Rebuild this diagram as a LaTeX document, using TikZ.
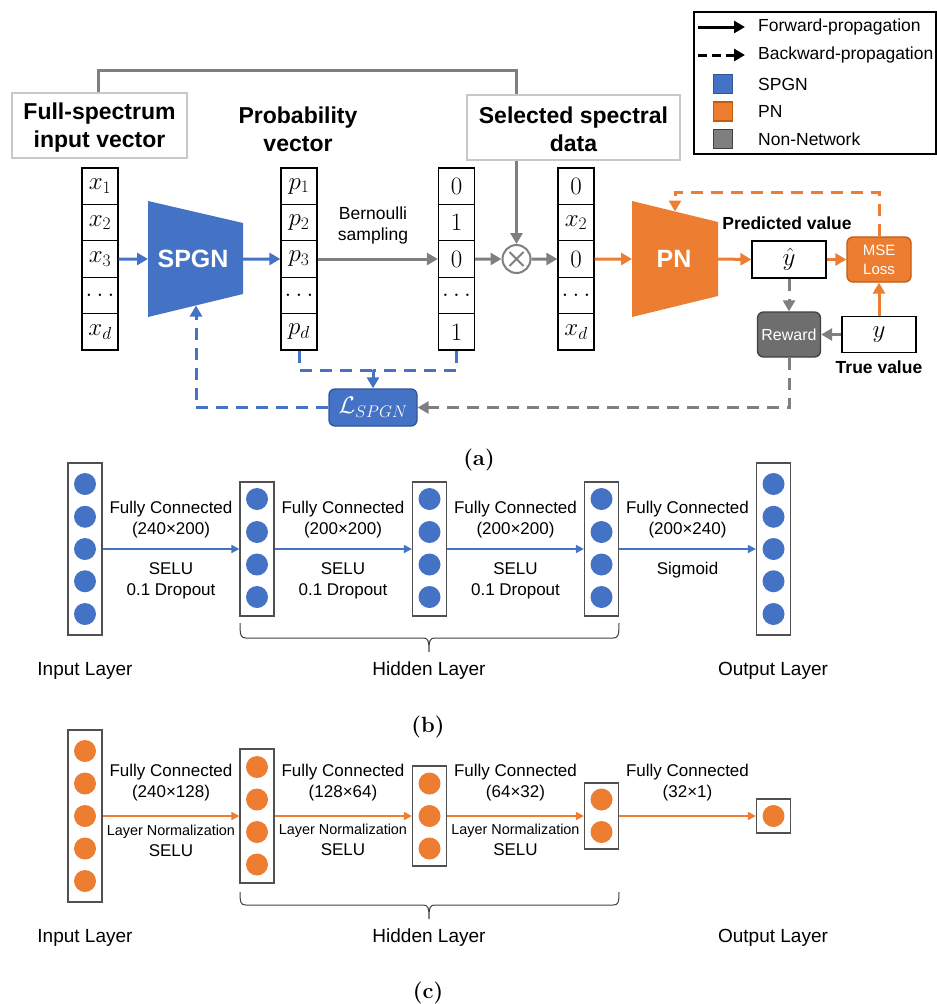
\RequirePackage{fix-cm}
\documentclass[tikz,border=0pt]{standalone}
\usepackage{fontspec}
\setsansfont{Liberation Sans}
\usetikzlibrary{arrows.meta,calc}
\definecolor{cblue}{HTML}{4472C4}
\definecolor{cblueD}{HTML}{2F5597}
\definecolor{corange}{HTML}{ED7D31}
\definecolor{corangeD}{HTML}{C55A11}
\definecolor{cgray}{HTML}{7F7F7F}
\definecolor{cgrayD}{HTML}{404040}
\definecolor{rewfill}{HTML}{6E6E6E}
\definecolor{lgray}{HTML}{C8C8C8}
\definecolor{laybox}{HTML}{505050}
\newcommand{\fsz}[2]{\fontsize{#1}{#2}\selectfont}
\tikzset{
  cell/.style={draw=black,line width=1.3pt,minimum width=36pt,minimum height=36.4pt,inner sep=0pt,font={\fsz{25}{30}}},
  hbox/.style={draw=lgray,line width=1.3pt,inner sep=0pt},
  headtext/.style={align=center,inner sep=0pt,font={\sffamily\bfseries\fsz{23}{28}}},
  smallbold/.style={inner sep=0pt,font={\sffamily\bfseries\fsz{17.5}{21}}},
  arrtip/.style={-{Triangle[length=11pt,width=12pt]}},
  barrow/.style={arrtip,draw=cblue,line width=3pt},
  garrow/.style={arrtip,draw=cgray,line width=3pt},
  oarrow/.style={arrtip,draw=corange,line width=3pt},
  gline/.style={draw=cgray,line width=3pt},
  dashpat/.style={dash pattern=on 12pt off 8pt},
  bdash/.style={draw=cblue,line width=3pt,dashpat},
  gdash/.style={draw=cgray,line width=3pt,dashpat},
  odash/.style={draw=corange,line width=3pt,dashpat},
  legtext/.style={anchor=west,inner sep=0pt,font={\sffamily\fsz{17.5}{21}}},
  legsq/.style={minimum size=19pt,inner sep=0pt,line width=1.3pt},
  laybox/.style={draw=laybox,line width=1.2pt,minimum width=34pt,inner sep=0pt},
  labtext/.style={align=center,inner sep=0pt,font={\sffamily\fsz{17}{21}}},
  labsmall/.style={align=center,inner sep=0pt,font={\sffamily\fsz{14.4}{17}}},
  lname/.style={inner sep=0pt,font={\sffamily\fsz{19}{23}}},
  captext/.style={inner sep=0pt,font={\rmfamily\bfseries\fsz{22}{26}}},
  thinb/.style={draw=cblue,line width=1.6pt,-{Triangle[length=8pt,width=8pt]}},
  thino/.style={draw=corange,line width=1.6pt,-{Triangle[length=8pt,width=8pt]}},
  bracepath/.style={draw=cgrayD,line width=1pt}
}
\begin{document}
\begin{tikzpicture}[x=1pt,y=-1pt,font=\sffamily]
\useasboundingbox (0,0) rectangle (937,1004);

% ---------------- Legend ----------------
\node[draw=black,line width=1.3pt,minimum width=242pt,minimum height=142pt,inner sep=0pt] (leg) at (815,83) {};
\coordinate (lf1) at (698,27); \coordinate (lf2) at (745,27);
\draw[arrtip,draw=black,line width=3pt] (lf1) -- (lf2);
\node[legtext] (lft) at (758,27) {Forward-propagation};
\coordinate (lb1) at (698,55); \coordinate (lb2) at (745,55);
\draw[arrtip,draw=black,line width=3pt,dash pattern=on 9pt off 5pt] (lb1) -- (lb2);
\node[legtext] (lbt) at (758,55) {Backward-propagation};
\node[legsq,fill=cblue,draw=cblueD] (lsq1) at (723,84) {};
\node[legtext] (ls1) at (758,84) {SPGN};
\node[legsq,fill=corange,draw=corangeD] (lsq2) at (723,111.5) {};
\node[legtext] (ls2) at (758,111.5) {PN};
\node[legsq,fill=cgray,draw=cgrayD] (lsq3) at (723,139) {};
\node[legtext] (ls3) at (758,139) {Non-Network};

% ---------------- Part (a) ----------------
\node[hbox,minimum width=175pt,minimum height=65pt] (fs) at (99.5,125.5) {};
\node[headtext] (fst) at (99.5,128) {Full-spectrum\\input vector};
\node[headtext] (pv) at (298,129.5) {Probability\\vector};
\node[hbox,minimum width=213pt,minimum height=65pt] (sel) at (573.5,127.5) {};
\node[headtext] (selt) at (573.5,129) {Selected spectral\\data};

% vectors
\foreach \i/\t in {1/{$x_1$},2/{$x_2$},3/{$x_3$},4/{$\dots$},5/{$x_d$}}
  \node[cell] (x\i) at (100,{186.2+36.4*(\i-1)}) {\t};
\foreach \i/\t in {1/{$p_1$},2/{$p_2$},3/{$p_3$},4/{$\dots$},5/{$p_d$}}
  \node[cell] (p\i) at (299,{186.2+36.4*(\i-1)}) {\t};
\foreach \i/\t in {1/{0},2/{1},3/{0},4/{$\dots$},5/{1}}
  \node[cell] (b\i) at (456.5,{186.2+36.4*(\i-1)}) {\rmfamily\t};
\foreach \i/\t in {1/{0},2/{$x_2$},3/{0},4/{$\dots$},5/{$x_d$}}
  \node[cell] (s\i) at (576,{186.2+36.4*(\i-1)}) {\rmfamily\t};

% SPGN
\fill[cblue] (148,201) -- (243,223) -- (243,294) -- (148,317) -- cycle;
\node[text=white,inner sep=0pt,font={\sffamily\bfseries\fsz{25}{30}}] (spgn) at (193,259) {SPGN};
\coordinate (spgnL) at (148,259);
\coordinate (spgnR) at (243,259);
\coordinate (spgnB) at (196,305.5);
\draw[barrow] (x3.east) -- (spgnL);
\draw[barrow] (spgnR) -- (p3.west);

% Bernoulli
\node[align=center,inner sep=0pt,font={\sffamily\fsz{17.5}{21}}] (bern) at (373,225) {Bernoulli\\sampling};
\draw[garrow] (p3.east) -- (b3.west);

% otimes
\node[circle,draw=cgray,line width=2pt,minimum size=28pt,inner sep=0pt] (ot) at (516.5,259) {};
\draw[cgray,line width=2pt] ($(ot)+(-7,-7)$) -- ($(ot)+(7,7)$) ($(ot)+(-7,7)$) -- ($(ot)+(7,-7)$);
\draw[garrow] (b3.east) -- (ot.west);
\draw[garrow] (ot.east) -- (s3.west);

% top line
\coordinate (tlx) at (98,0);
\coordinate (tc) at (516.5,70);
\draw[gline] (fs.north -| tlx) |- (tc) -- (sel.north -| tc);
\draw[garrow] (sel.south -| tc) -- (ot.north);

% PN
\fill[corange] (632,201) -- (718,222) -- (718,296) -- (632,317) -- cycle;
\node[text=white,inner sep=0pt,font={\sffamily\bfseries\fsz{25}{30}}] (pn) at (674,259) {PN};
\coordinate (pnL) at (632,259);
\coordinate (pnR) at (718,259);
\coordinate (pnT) at (675,211.5);
\draw[oarrow] (s3.east) -- (pnL);

\node[draw=black,line width=1.3pt,minimum width=74pt,minimum height=37pt,inner sep=0pt,font={\fsz{25}{30}}] (yhat) at (789,259.5) {$\hat{y}$};
\node[smallbold] (predl) at (787,223) {Predicted value};
\draw[oarrow] (pnR) -- (yhat.west);

\node[fill=corange,draw=corangeD,line width=1.3pt,rounded corners=6pt,minimum width=64pt,minimum height=45pt,inner sep=0pt,align=center,text=white,font={\sffamily\fsz{15}{19}}] (mse) at (879,259.5) {MSE\\Loss};
\draw[oarrow] (yhat.east) -- (mse.west);

\coordinate (otop) at (675,192);
\draw[odash,arrtip] (mse.north) |- (otop) -- (pnT);

\node[fill=rewfill,draw=cgrayD,line width=1.3pt,rounded corners=6pt,minimum width=63pt,minimum height=45pt,inner sep=0pt,text=white,font={\sffamily\fsz{16}{19}}] (reward) at (789,334.5) {Reward};
\node[draw=black,line width=1.3pt,minimum width=74pt,minimum height=36pt,inner sep=0pt,font={\fsz{25}{30}}] (ytrue) at (879,334.5) {$y$};
\node[smallbold] (truel) at (879,367) {True value};

\draw[gdash,arrtip] (yhat.south) -- (reward.north);
\draw[gdash,arrtip] (ytrue.west) -- (reward.east);
\draw[oarrow] (ytrue.north) -- (mse.south);

\node[fill=cblue,draw=cblueD,line width=1.3pt,rounded corners=6pt,minimum width=88pt,minimum height=37pt,inner sep=0pt,text=white,font={\fsz{24}{28}}] (lbox) at (373,407.5) {$\mathcal{L}_{SPGN}$};
\draw[gdash,arrtip] (reward.south) |- (lbox.east);

\coordinate (jn) at (373,370);
\draw[bdash] (p5.south) |- (jn);
\draw[bdash] (b5.south) |- (jn);
\draw[bdash,arrtip] (jn) -- (lbox.north);
\draw[bdash,arrtip] (lbox.west) -| (spgnB);

\node[captext] (capa) at (479,460) {(a)};

% ---------------- Part (b) ----------------
\node[laybox,minimum height=172pt] (bI) at (85,549) {};
\foreach \yy in {484,516.75,549,581.25,614} \fill[cblue] (85,\yy) circle (11pt);
\node[laybox,minimum height=134pt] (bH1) at (257,549) {};
\node[laybox,minimum height=134pt] (bH2) at (429.5,549) {};
\node[laybox,minimum height=134pt] (bH3) at (601.5,549) {};
\foreach \xx in {257,429.5,601.5}
  \foreach \yy in {499,532,564.5,597} \fill[cblue] (\xx,\yy) circle (11pt);
\node[laybox,minimum height=172pt] (bO) at (773.5,549) {};
\foreach \yy in {484,516.75,549,581.25,614} \fill[cblue] (773.5,\yy) circle (11pt);

\draw[thinb] (bI.east) -- (bH1.west);
\draw[thinb] (bH1.east) -- (bH2.west);
\draw[thinb] (bH2.east) -- (bH3.west);
\draw[thinb] (bH3.east) -- (bO.west);

\node[labtext] (bl1a) at (171,519.5) {Fully Connected\\(240×200)};
\node[labtext] (bl1b) at (171,580.5) {SELU\\0.1 Dropout};
\node[labtext] (bl2a) at (343,519.5) {Fully Connected\\(200×200)};
\node[labtext] (bl2b) at (343,580.5) {SELU\\0.1 Dropout};
\node[labtext] (bl3a) at (515.5,519.5) {Fully Connected\\(200×200)};
\node[labtext] (bl3b) at (515.5,580.5) {SELU\\0.1 Dropout};
\node[labtext] (bl4a) at (687.5,519.5) {Fully Connected\\(200×240)};
\node[labtext] (bl4b) at (687.5,570) {Sigmoid};

\draw[bracepath] (240,623) .. controls (240,636) and (241,638) .. (246,638) -- (423,638) .. controls (428,638) and (429,640) .. (429,652)
  .. controls (429,640) and (430,638) .. (435,638) -- (613,638) .. controls (618,638) and (619,636) .. (619,623);

\node[lname] (bn1) at (85,671) {Input Layer};
\node[lname] (bn2) at (429,671) {Hidden Layer};
\node[lname] (bn3) at (773,671) {Output Layer};
\node[captext] (capb) at (428,727) {(b)};

% ---------------- Part (c) ----------------
\node[laybox,minimum height=172pt] (cI) at (85,816) {};
\foreach \yy in {751,783.5,816,848.5,881} \fill[corange] (85,\yy) circle (11pt);
\node[laybox,minimum height=134pt] (cH1) at (257,816) {};
\foreach \yy in {767,799.5,832,864.5} \fill[corange] (257,\yy) circle (11pt);
\node[laybox,minimum height=100pt] (cH2) at (429.5,816) {};
\foreach \yy in {783.5,816,848.5} \fill[corange] (429.5,\yy) circle (11pt);
\node[laybox,minimum height=66pt] (cH3) at (601.5,816) {};
\foreach \yy in {799.5,832} \fill[corange] (601.5,\yy) circle (11pt);
\node[laybox,minimum height=34pt] (cO) at (773.5,816) {};
\fill[corange] (773.5,816) circle (11pt);

\draw[thino] (cI.east) -- (cH1.west);
\draw[thino] (cH1.east) -- (cH2.west);
\draw[thino] (cH2.east) -- (cH3.west);
\draw[thino] (cH3.east) -- (cO.west);

\node[labtext] (cl1a) at (171,783) {Fully Connected\\(240×128)};
\node[labsmall] (cl1b) at (171,832) {Layer Normalization};
\node[labtext] (cl1c) at (171,851) {SELU};
\node[labtext] (cl2a) at (343,783) {Fully Connected\\(128×64)};
\node[labsmall] (cl2b) at (343,831) {Layer Normalization};
\node[labtext] (cl2c) at (343,850) {SELU};
\node[labtext] (cl3a) at (515.5,783) {Fully Connected\\(64×32)};
\node[labsmall] (cl3b) at (515.5,831) {Layer Normalization};
\node[labtext] (cl3c) at (515.5,850) {SELU};
\node[labtext] (cl4a) at (687.5,783) {Fully Connected\\(32×1)};

\draw[bracepath] (240,892) .. controls (240,903) and (241,905) .. (246,905) -- (423,905) .. controls (428,905) and (429,907) .. (429,919)
  .. controls (429,907) and (430,905) .. (435,905) -- (613,905) .. controls (618,905) and (619,903) .. (619,892);

\node[lname] (cn1) at (85,938) {Input Layer};
\node[lname] (cn2) at (429,938) {Hidden Layer};
\node[lname] (cn3) at (773,938) {Output Layer};
\node[captext] (capc) at (428,993) {(c)};
\end{tikzpicture}
\end{document}
